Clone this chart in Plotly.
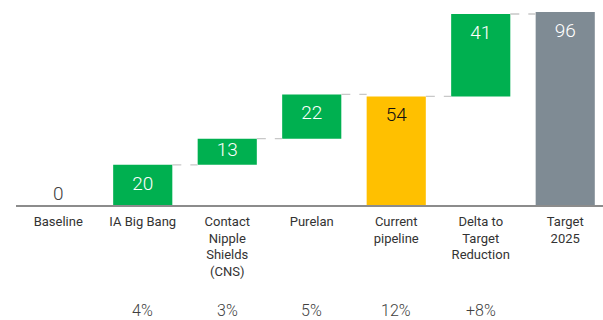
import plotly.graph_objects as go

categories = ["Baseline", "IA Big Bang", "Contact<br>Nipple<br>Shields<br>(CNS)", "Purelan",
              "Current<br>pipeline", "Delta to<br>Target<br>Reduction", "Target<br>2025"]
values = [0, 20, 13, 22, 54, 41, 96]
measures = ["absolute", "relative", "relative", "relative", "total", "relative", "total"]
colors = ["#00B050", "#00B050", "#00B050", "#00B050", "#FFC000", "#00B050", "#7F8B94"]
label_colors = ["#404040", "white", "white", "white", "#111111", "white", "white"]
percent_labels = ["", "4%", "3%", "5%", "12%", "+8%", ""]

# compute bases
bases, tops = [], []
running = 0
for v, m in zip(values, measures):
    if m == "relative":
        b = running
        running += v
    else:
        b = 0
        running = v
    bases.append(b)
    tops.append(b + v)

xs = list(range(len(categories)))
BW = 0.7
FONT = "Roboto"

fig = go.Figure()
fig.add_trace(go.Bar(x=xs, y=values, base=bases, width=BW,
                     marker=dict(color=colors, line=dict(width=0)),
                     hoverinfo="skip", showlegend=False))

# connectors
for i in range(1, len(xs) - 1):
    fig.add_trace(go.Scatter(x=[xs[i] + BW / 2, xs[i + 1] - BW / 2], y=[tops[i], tops[i]],
                             mode="lines", line=dict(color="#C8C8C8", width=1.3, dash="dash"),
                             hoverinfo="skip", showlegend=False))

# value labels
ly, pos = [], []
for b, t, v in zip(bases, tops, values):
    if v == 0:
        ly.append(t)
        pos.append("top center")
    else:
        ly.append(max((b + t) / 2, t - 10))
        pos.append("middle center")
fig.add_trace(go.Scatter(x=xs, y=ly, mode="text", text=[str(v) for v in values],
                         textposition=pos,
                         textfont=dict(color=label_colors, size=19, family=FONT, weight=300),
                         hoverinfo="skip", showlegend=False))

for x, p in zip(xs, percent_labels):
    if p:
        fig.add_annotation(x=x, y=-(310 - 205) / 205.0, xref="x", yref="paper", yanchor="middle",
                           text=p, showarrow=False,
                           font=dict(size=16, color="#404040", family=FONT, weight=300))

fig.update_layout(
    width=603, height=320,
    margin=dict(l=16, r=0, t=0, b=115),
    plot_bgcolor="white", paper_bgcolor="white",
    xaxis=dict(range=[-0.5, 6.447], tickvals=xs, ticktext=categories,
               showline=True, linecolor="#8C8C8C", linewidth=2, ticks="outside",
               ticklen=3, tickcolor="rgba(0,0,0,0)",
               showgrid=False, zeroline=False,
               tickfont=dict(size=13, color="#333333", family=FONT)),
    yaxis=dict(range=[0, 101.97], visible=False),
)

fig.write_html("out.html")
